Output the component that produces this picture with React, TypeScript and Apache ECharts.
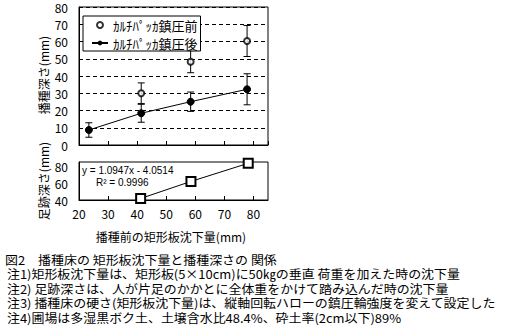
import React, { useEffect, useRef } from "react";
import * as echarts from "echarts";

// Top chart: before compaction (open circles)
const beforeX = [41.4, 58.4, 77.8];
const beforeY = [30, 48.3, 60.3];
const beforeErr = [6, 6.4, 9];
// Top chart: after compaction (filled circles, line)
const afterX = [23.4, 41.4, 58.4, 77.8];
const afterY = [8.7, 18.4, 25.1, 32.3];
const afterErr = [4.2, 5.2, 5.6, 9];
// Bottom chart: footprint depth
const footX = [41.2, 58.5, 78.2];
const footY = [41.8, 62, 83.5];

const seriesNames = ["ｶﾙﾁﾊﾟｯｶ鎮圧前", "ｶﾙﾁﾊﾟｯｶ鎮圧後"];
const captionLines = [
  "図2　播種床の 矩形板沈下量と播種深さの 関係",
  "注1)矩形板沈下量は、矩形板(5×10cm)に50㎏の垂直 荷重を加えた時の沈下量",
  "注2) 足跡深さは、人が片足のかかとに全体重をかけて踏み込んだ時の沈下量",
  "注3) 播種床の硬さ(矩形板沈下量)は、縦軸回転ハローの鎮圧輪強度を変えて設定した",
  "注4)圃場は多湿黒ボク土、土壌含水比48.4%、砕土率(2cm以下)89%",
];
const captionY = [260, 274, 289, 303, 318];
const yTitleTop = "播種深さ(mm)";
const yTitleBottom = "足跡深さ(mm)";
const xTitle = "播種前の矩形板沈下量(mm)";
const eqText = "y = 1.0947x - 4.0514";
const r2Text = "R² = 0.9996";

const FONT = "'Noto Sans CJK JP', 'Noto Sans', sans-serif";
const LATIN = "'Liberation Sans', Arial, sans-serif";

export default function App() {
  const ref = useRef<HTMLDivElement>(null);
  useEffect(() => {
    if (!ref.current) return;
    const chart = echarts.init(ref.current, null, { renderer: "svg" });

    const errRender = (params: any, api: any) => {
      const x = api.value(0);
      const lo = api.coord([x, api.value(1)]);
      const hi = api.coord([x, api.value(2)]);
      const cap = 3.5;
      const style = { stroke: "#000", lineWidth: 1 };
      return {
        type: "group",
        children: [
          { type: "line", shape: { x1: lo[0], y1: lo[1], x2: hi[0], y2: hi[1] }, style },
          { type: "line", shape: { x1: lo[0] - cap, y1: lo[1], x2: lo[0] + cap, y2: lo[1] }, style },
          { type: "line", shape: { x1: hi[0] - cap, y1: hi[1], x2: hi[0] + cap, y2: hi[1] }, style },
        ],
      };
    };

    const beforeErrData = beforeX.map((x, i) => [x, beforeY[i] - beforeErr[i], beforeY[i] + beforeErr[i]]);
    const afterErrData = afterX.map((x, i) => [x, afterY[i] - afterErr[i], afterY[i] + afterErr[i]]);

    const axisLabel = { color: "#000", fontSize: 12, fontFamily: FONT };

    chart.setOption({
      animation: false,
      backgroundColor: "#fff",
      textStyle: { fontFamily: FONT },
      grid: [
        { left: 79, top: 7, width: 189, height: 138, show: true, borderColor: "#000", borderWidth: 1, backgroundColor: "transparent" },
        { left: 79, top: 162, width: 189, height: 38, show: true, borderColor: "#000", borderWidth: 1, backgroundColor: "transparent" },
      ],
      xAxis: [
        {
          gridIndex: 0, type: "value", min: 20, max: 85, interval: 10,
          axisLine: { lineStyle: { color: "#000" } },
          axisTick: { show: true, inside: true, length: 4, lineStyle: { color: "#000" } },
          axisLabel: { show: false }, splitLine: { show: false },
        },
        {
          gridIndex: 1, type: "value", min: 20, max: 85, interval: 10,
          axisLine: { lineStyle: { color: "#000" } },
          axisTick: { show: true, inside: true, length: 4, lineStyle: { color: "#000" } },
          axisLabel: { ...axisLabel, margin: 7, showMaxLabel: false }, splitLine: { show: false },
        },
      ],
      yAxis: [
        {
          gridIndex: 0, type: "value", min: 0, max: 80, interval: 10,
          axisLine: { show: true, lineStyle: { color: "#000" } },
          axisTick: { show: false },
          axisLabel: { ...axisLabel, margin: 11 },
          splitLine: { show: true, lineStyle: { color: "#000", type: [4, 3], width: 1 } },
        },
        {
          gridIndex: 1, type: "value", min: 40, max: 85, interval: 20,
          axisLine: { show: true, lineStyle: { color: "#000" } },
          axisTick: { show: false },
          axisLabel: { ...axisLabel, margin: 11, showMaxLabel: false },
          splitLine: { show: false },
        },
      ],
      legend: {
        data: seriesNames,
        orient: "vertical",
        left: 83,
        top: 16,
        padding: [2, 3, 1, 8],
        itemWidth: 16,
        itemHeight: 6,
        itemGap: 4,
        backgroundColor: "#fff",
        borderColor: "#000",
        borderWidth: 1,
        borderRadius: 0,
        textStyle: { color: "#000", fontSize: 13, fontFamily: FONT, lineHeight: 14 },
      },
      series: [
        {
          name: seriesNames[0], type: "scatter", xAxisIndex: 0, yAxisIndex: 0,
          data: beforeX.map((x, i) => [x, beforeY[i]]),
          symbol: "emptyCircle", symbolSize: 6,
          itemStyle: { color: "#000", borderColor: "#000", borderWidth: 1 },
          z: 4,
        },
        {
          type: "custom", xAxisIndex: 0, yAxisIndex: 0,
          renderItem: errRender, data: beforeErrData, encode: { x: 0, y: [1, 2] }, z: 3, silent: true,
        },
        {
          name: seriesNames[1], type: "line", xAxisIndex: 0, yAxisIndex: 0,
          data: afterX.map((x, i) => [x, afterY[i]]),
          symbol: "circle", symbolSize: 7,
          lineStyle: { color: "#000", width: 1 },
          itemStyle: { color: "#000", borderColor: "#000" },
          z: 4,
        },
        {
          type: "custom", xAxisIndex: 0, yAxisIndex: 0,
          renderItem: errRender, data: afterErrData, encode: { x: 0, y: [1, 2] }, z: 3, silent: true,
        },
        {
          name: "足跡深さ", type: "line", xAxisIndex: 1, yAxisIndex: 1,
          data: footX.map((x, i) => [x, footY[i]]),
          symbol: "emptyRect", symbolSize: 9,
          lineStyle: { color: "#000", width: 1 },
          itemStyle: { color: "#000", borderColor: "#000", borderWidth: 1 },
        },
      ],
      graphic: [
        {
          type: "text", x: 43, y: 75, rotation: Math.PI / 2,
          style: { text: yTitleTop, fill: "#000", font: `12px ${FONT}`, align: "center", verticalAlign: "middle" },
        },
        {
          type: "text", x: 43, y: 181, rotation: Math.PI / 2,
          style: { text: yTitleBottom, fill: "#000", font: `12px ${FONT}`, align: "center", verticalAlign: "middle" },
        },
        {
          type: "text", x: 171, y: 236,
          style: { text: xTitle, fill: "#000", font: `12px ${FONT}`, align: "center", verticalAlign: "middle" },
        },
        {
          type: "text", x: 82, y: 170, z: 10,
          style: { text: eqText, fill: "#000", font: `10px ${LATIN}`, align: "left", verticalAlign: "middle" },
        },
        {
          type: "text", x: 96, y: 182, z: 10,
          style: { text: r2Text, fill: "#000", font: `10px ${LATIN}`, align: "left", verticalAlign: "middle" },
        },
        ...captionLines.map((t, i) => ({
          type: "text", x: i === 0 ? 5 : 7, y: captionY[i], scaleX: 1.08,
          style: { text: t, fill: "#000", font: `12px ${FONT}`, lineHeight: 13, align: "left", verticalAlign: "middle" },
        })),
      ],
    });
    return () => chart.dispose();
  }, []);
  return <div ref={ref} style={{ position: "fixed", left: 0, top: 0, width: 505, height: 333 }} />;
}
